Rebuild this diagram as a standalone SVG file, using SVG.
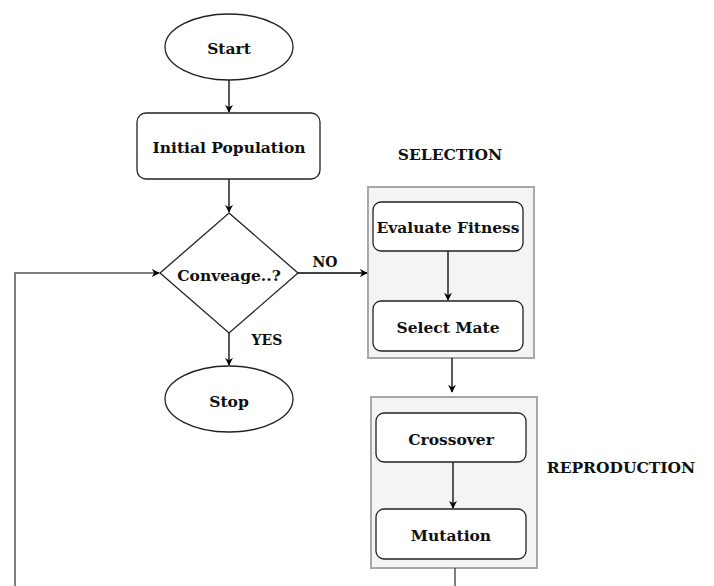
<svg xmlns="http://www.w3.org/2000/svg" width="714" height="586" viewBox="0 0 714 586">
<defs>
<marker id="arr" viewBox="0 0 10 10" refX="9" refY="5" markerWidth="8" markerHeight="8" markerUnits="userSpaceOnUse" orient="auto">
<path d="M0,0 L10,5 L0,10 L3,5 Z" fill="#000"/>
</marker>
</defs>
<style>
text{font-family:"DejaVu Serif","Liberation Serif",serif;font-weight:bold;font-size:15.5px;fill:#111;text-anchor:middle;dominant-baseline:central}
.shape{fill:#fff;stroke:#222;stroke-width:1.3}
.grp{fill:#f4f4f4;stroke:#a8a8a8;stroke-width:2}
.conn{fill:none;stroke:#000;stroke-width:1.3}
.lbl{font-size:14px}
.loop{fill:none;stroke:#555;stroke-width:1.5}
</style>
<rect width="714" height="586" fill="#fff"/>
<g id="selection-group">
<rect class="grp" x="368" y="187" width="166" height="171"/>
<text x="450" y="154">SELECTION</text>
</g>
<g id="reproduction-group">
<rect class="grp" x="371" y="397" width="166" height="171"/>
<text x="621" y="467">REPRODUCTION</text>
</g>
<g id="connectors">
<line class="conn" x1="229" y1="80" x2="229" y2="112" marker-end="url(#arr)"/>
<line class="conn" x1="229" y1="179" x2="229" y2="212" marker-end="url(#arr)"/>
<line class="conn" x1="229" y1="333" x2="229" y2="365" marker-end="url(#arr)"/>
<line class="conn" x1="297" y1="273" x2="367" y2="273" marker-end="url(#arr)"/>
<line class="conn" x1="448" y1="251" x2="448" y2="300" marker-end="url(#arr)"/>
<line class="conn" x1="452" y1="358" x2="452" y2="392" marker-end="url(#arr)"/>
<line class="conn" x1="453" y1="462" x2="453" y2="508" marker-end="url(#arr)"/>
<line class="loop" x1="455" y1="568" x2="455" y2="586"/>
<polyline class="loop" points="15,586 15,273 159,273" marker-end="url(#arr)"/>
<text class="lbl" x="325" y="262">NO</text>
<text class="lbl" x="267" y="340">YES</text>
</g>
<g id="start">
<ellipse class="shape" cx="229" cy="47" rx="64" ry="33"/>
<text x="229" y="48">Start</text>
</g>
<g id="initial-population">
<rect class="shape" x="137" y="113" width="183" height="66" rx="9"/>
<text x="229" y="147">Initial Population</text>
</g>
<g id="converge">
<polygon class="shape" points="229,213 298,273 229,333 160,273"/>
<text x="229" y="275">Conveage..?</text>
</g>
<g id="stop">
<ellipse class="shape" cx="229" cy="399" rx="64" ry="33"/>
<text x="229" y="401">Stop</text>
</g>
<g id="evaluate-fitness">
<rect class="shape" x="373" y="202" width="150" height="49" rx="8"/>
<text x="448" y="227">Evaluate Fitness</text>
</g>
<g id="select-mate">
<rect class="shape" x="373" y="301" width="150" height="50" rx="8"/>
<text x="448" y="327">Select Mate</text>
</g>
<g id="crossover">
<rect class="shape" x="376" y="413" width="150" height="49" rx="8"/>
<text x="451" y="439">Crossover</text>
</g>
<g id="mutation">
<rect class="shape" x="376" y="509" width="150" height="50" rx="8"/>
<text x="451" y="535">Mutation</text>
</g>
</svg>
